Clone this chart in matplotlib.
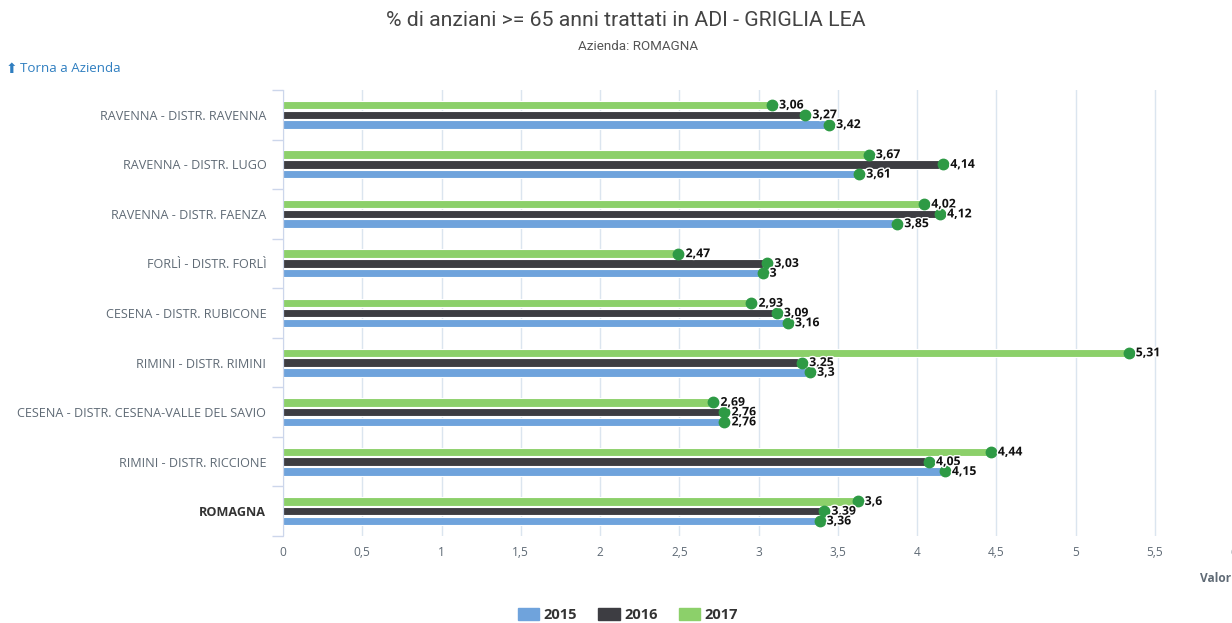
import matplotlib.pyplot as plt
import matplotlib.patheffects as pe
import matplotlib.transforms as mtransforms
from matplotlib.patches import Patch
import numpy as np

categories = ['RAVENNA - DISTR. RAVENNA', 'RAVENNA - DISTR. LUGO', 'RAVENNA - DISTR. FAENZA',
              'FORLÌ - DISTR. FORLÌ', 'CESENA - DISTR. RUBICONE', 'RIMINI - DISTR. RIMINI',
              'CESENA - DISTR. CESENA-VALLE DEL SAVIO', 'RIMINI - DISTR. RICCIONE', 'ROMAGNA']
v2015 = [3.42, 3.61, 3.85, 3.00, 3.16, 3.30, 2.76, 4.15, 3.36]
v2016 = [3.27, 4.14, 4.12, 3.03, 3.09, 3.25, 2.76, 4.05, 3.39]
v2017 = [3.06, 3.67, 4.02, 2.47, 2.93, 5.31, 2.69, 4.44, 3.60]
years = ['2015', '2016', '2017']
xticks = [0, 0.5, 1, 1.5, 2, 2.5, 3, 3.5, 4, 4.5, 5, 5.5, 6]

c15, c16, c17 = '#6fa3dc', '#3d3d42', '#8cd06a'
mk = '#2e9a45'
gray = '#5f6a75'

fig = plt.figure(figsize=(12.32, 6.23), dpi=100)
ax = fig.add_axes([283 / 1232, 1 - 536 / 623, 951 / 1232, 446 / 623])

# markers sit a few pixels right of the bar end, like in the original
shift = mtransforms.ScaledTranslation(4 / 100, 0, fig.dpi_scale_trans)
mtrans = ax.transData + shift

y = np.arange(len(categories))
off = 0.197
h = 0.17
series = [(v2017, c17, -off), (v2016, c16, 0), (v2015, c15, off)]
for vals, col, o in series:
    ax.barh(y + o, vals, height=h, color=col, edgecolor='white', linewidth=0.8, zorder=2)
    ax.plot(vals, y + o, 'o', color=mk, markersize=7.5, zorder=3, clip_on=False,
            transform=mtrans)
    for yi, v in zip(y, vals):
        lab = ('%g' % v).replace('.', ',')
        ax.text(v + 0.045, yi + o, lab, fontsize=8.8, fontweight='bold', family='Open Sans',
                color='#111111', va='center', ha='left', zorder=4, transform=mtrans,
                path_effects=[pe.withStroke(linewidth=2, foreground='white')])

ax.set_xlim(0, 6)
ax.set_ylim(len(categories) - 0.5, -0.5)
ax.set_xticks(xticks)
ax.set_xticklabels([('%g' % t).replace('.', ',') for t in xticks], fontsize=8.6,
                   color=gray, family='Open Sans')
ax.tick_params(axis='x', length=0, pad=7)
ax.grid(axis='x', color='#dbe5ef', linewidth=1, zorder=0)

ax.set_yticks(y)
ax.set_yticklabels(categories, fontsize=9.1, color=gray, family='Open Sans')
for t in ax.get_yticklabels():
    if t.get_text() == 'ROMAGNA':
        t.set_fontweight('bold')
        t.set_color('#333333')
ax.tick_params(axis='y', length=0, pad=12)
ax.set_yticks(np.arange(-0.5, len(categories), 1), minor=True)
ax.tick_params(axis='y', which='minor', length=8, color='#ccd6eb', width=1)

for s in ['top', 'right', 'bottom']:
    ax.spines[s].set_visible(False)
ax.spines['left'].set_color('#ccd6eb')

fig.text(0.508, 1 - 21 / 623, '% di anziani >= 65 anni trattati in ADI - GRIGLIA LEA',
         ha='center', va='center', fontsize=15.3, color='#444444', family='Roboto')
fig.text(0.518, 1 - 46 / 623, 'Azienda: ROMAGNA', ha='center', va='center',
         fontsize=9.6, color='#555555', family='Roboto')
fig.text(6 / 1232, 1 - 69 / 623, '\u2b06', ha='left', va='center', fontsize=10,
         color='#2f7ec0', family='DejaVu Sans')
fig.text(20 / 1232, 1 - 69 / 623, 'Torna a Azienda', ha='left', va='center', fontsize=9.6,
         color='#2f7ec0', family='Open Sans')
fig.text(1200 / 1232, 1 - 578 / 623, 'Valori', ha='left', va='center', fontsize=8.6,
         color=gray, family='Open Sans', fontweight='bold')

handles = [Patch(color=c) for c in (c15, c16, c17)]
leg = fig.legend(handles, years, loc='center', bbox_to_anchor=(628 / 1232, 1 - 615 / 623),
                 ncol=3, frameon=False, handlelength=1.45, handleheight=0.95,
                 columnspacing=1.45, handletextpad=0.3,
                 prop={'family': 'Open Sans', 'weight': 'bold', 'size': 10.5})
for t in leg.get_texts():
    t.set_color('#333333')

fig.savefig('out.png', dpi=100)
